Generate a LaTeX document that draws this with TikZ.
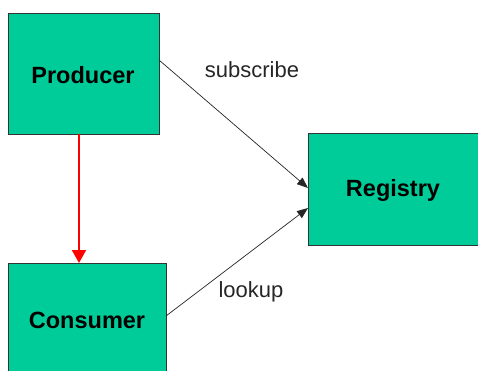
\documentclass[tikz,border=0pt]{standalone}
\usepackage{fontspec}
\setmainfont{Liberation Sans}
\usetikzlibrary{arrows.meta}
\definecolor{boxgreen}{RGB}{0,204,153}
\begin{document}
\begin{tikzpicture}[x=1pt,y=-1pt,
  boxstyle/.style={draw=black!80,line width=0.8pt,fill=boxgreen},
  boxlabel/.style={font=\fontsize{23.5}{26}\selectfont\bfseries},
  edgelabel/.style={font=\fontsize{22}{24}\selectfont,text=black!85},
  conn/.style={draw=black!85,line width=0.7pt,-{Triangle[length=11pt,width=8.5pt]}}]
\useasboundingbox (0,0) rectangle (478,370);
\fill[white] (0,0) rectangle (478,370);
\draw[boxstyle] (8,13) rectangle (159,134);
\node[boxlabel] (prodlab) at (83,75) {Producer};
\draw[boxstyle] (8,263) rectangle (166,372);
\node[boxlabel] (conslab) at (87,320) {Consumer};
\draw[boxstyle] (308,133) rectangle (480,245);
\node[boxlabel] (reglab) at (393,190) {Registry};
\coordinate (pr) at (159,60);
\coordinate (rs) at (308,188);
\coordinate (cr) at (166,316);
\coordinate (rl) at (308,208);
\coordinate (pb) at (79,134);
\coordinate (ct) at (79,263);
\draw[conn] (pr) -- (rs);
\draw[conn] (cr) -- (rl);
\draw[red,line width=2pt,-{Triangle[length=13pt,width=14pt]}] (pb) -- (ct);
\node[edgelabel] (sub) at (252,70) {subscribe};
\node[edgelabel] (look) at (251,292) {lookup};
\end{tikzpicture}
\end{document}
